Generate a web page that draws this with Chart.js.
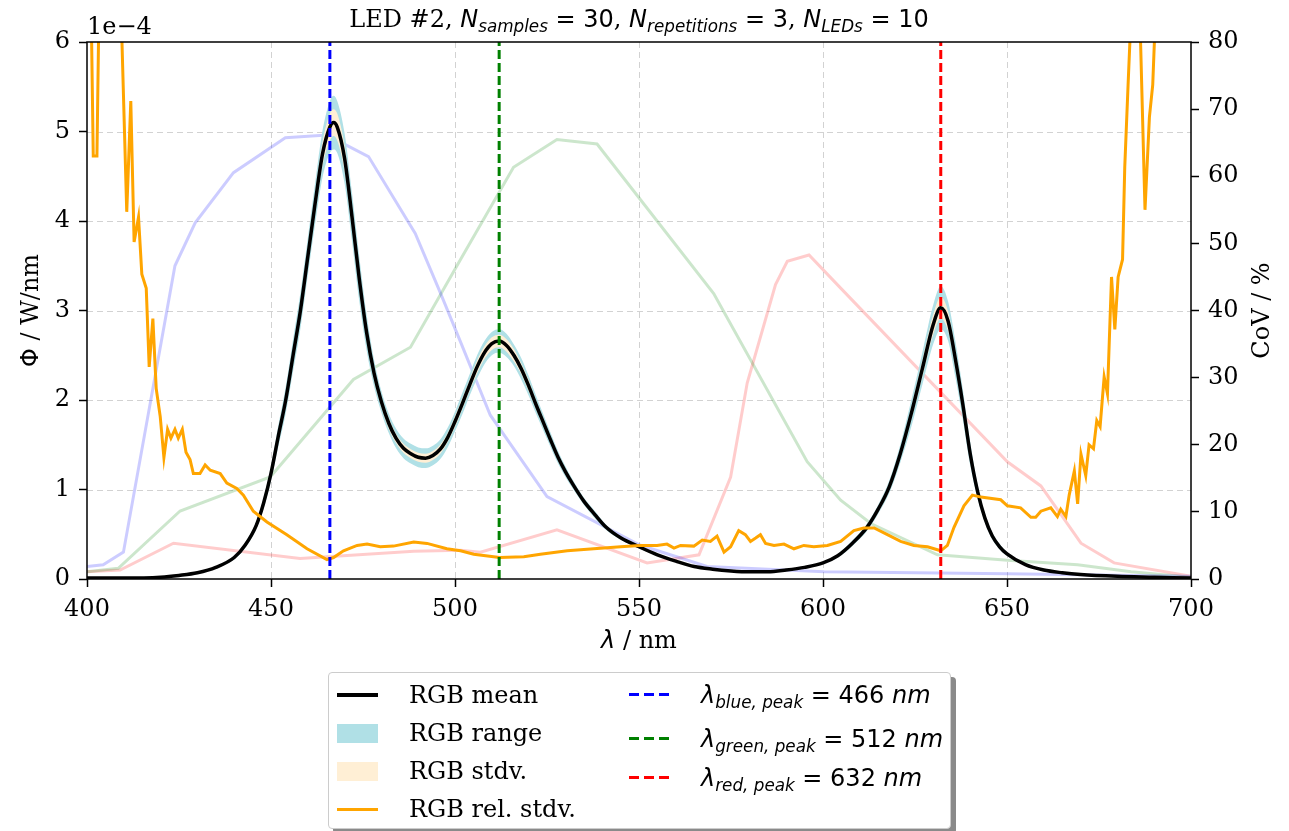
<!DOCTYPE html>
<html>
<head>
<meta charset="utf-8">
<script src="https://cdn.jsdelivr.net/npm/chart.js@4.4.0/dist/chart.umd.min.js"></script>
<style>
  body { margin: 0; background: #fff; }
  #wrap { position: relative; width: 1289px; height: 831px; }
  canvas { position: absolute; left: 0; top: 0; }
  .title { position: absolute; left: 0; width: 1278px; top: 4px; text-align: center;
           font: 24px "DejaVu Serif"; line-height: 30px; white-space: nowrap; }
  .m { font-family: "DejaVu Sans"; font-style: italic; }
  .s { font-family: "DejaVu Sans"; }
  sub { font-size: 70%; vertical-align: -0.3em; line-height: 0; }
  #legend { position: absolute; left: 328px; top: 672px; width: 623px; height: 157px; box-sizing: border-box;
            border: 1px solid #cccccc; border-radius: 4px; background: #fff; box-shadow: 5px 5px 0 #8a8a8a; }
  .lab { position: absolute; font: 24px "DejaVu Serif"; line-height: 30px; white-space: nowrap; }
  .h { position: absolute; }
</style>
</head>
<body>
<div id="wrap">
  <canvas id="c" width="1289" height="831"></canvas>
  <div class="title">LED #2, <span class="m">N<sub>samples</sub></span><span class="s"> = 30</span>, <span class="m">N<sub>repetitions</sub></span><span class="s"> = 3</span>, <span class="m">N<sub>LEDs</sub></span><span class="s"> = 10</span></div>
  <div id="legend">
    <div class="h" style="left:8px; top:20px; width:41px; height:3.5px; background:#000"></div>
    <div class="h" style="left:8px; top:51px; width:41px; height:19px; background:#b0e0e6"></div>
    <div class="h" style="left:8px; top:89px; width:41px; height:19px; background:#ffefd5"></div>
    <div class="h" style="left:8px; top:135px; width:41px; height:3px; background:#ffa500"></div>
    <div class="lab" style="left:80px; top:7px">RGB mean</div>
    <div class="lab" style="left:80px; top:45px">RGB range</div>
    <div class="lab" style="left:80px; top:83px">RGB stdv.</div>
    <div class="lab" style="left:80px; top:121px">RGB rel. stdv.</div>
    <div class="h" style="left:300px; top:20px; width:40px; height:3px; background:repeating-linear-gradient(90deg,#0000ff 0 10px,transparent 10px 15px)"></div>
    <div class="h" style="left:300px; top:64px; width:40px; height:3px; background:repeating-linear-gradient(90deg,#008000 0 10px,transparent 10px 15px)"></div>
    <div class="h" style="left:300px; top:103px; width:40px; height:3px; background:repeating-linear-gradient(90deg,#ff0000 0 10px,transparent 10px 15px)"></div>
    <div class="lab" style="left:372px; top:7px"><span class="m">λ<sub>blue, peak</sub></span><span class="s"> = 466 </span><span class="m">nm</span></div>
    <div class="lab" style="left:372px; top:51px"><span class="m">λ<sub>green, peak</sub></span><span class="s"> = 512 </span><span class="m">nm</span></div>
    <div class="lab" style="left:372px; top:90px"><span class="m">λ<sub>red, peak</sub></span><span class="s"> = 632 </span><span class="m">nm</span></div>
  </div>
</div>
<script>
// wavelength grid of the RGB spectrum, nm
var wl = [400,410,420,425,430,435,440,443,446,448,
          450,452,454,456,458,460,462,464,466,467,
          468,470,472,474,476,478,480,482,484,486,
          488,490,492,494,496,498,500,502,504,506,
          508,510,512,514,516,518,520,522,524,526,
          528,530,532,535,538,541,545,550,555,560,
          565,570,575,580,585,590,595,600,604,608,
          612,615,618,621,624,627,630,632,634,636,
          638,640,642,644,646,648,650,655,660,665,
          670,680,690,700];
// mean spectral flux, 1e-4 W/nm
var meanE4 = [0.01,0.01,0.02,0.04,0.07,0.13,0.24,0.38,0.60,0.85,
              1.18,1.60,2.00,2.50,3.00,3.60,4.20,4.75,5.05,5.10,
              5.05,4.70,4.05,3.35,2.75,2.30,1.98,1.74,1.57,1.46,
              1.40,1.36,1.35,1.38,1.45,1.58,1.76,1.96,2.17,2.37,
              2.53,2.63,2.66,2.61,2.50,2.35,2.16,1.95,1.75,1.55,
              1.36,1.20,1.06,0.87,0.72,0.58,0.46,0.36,0.27,0.20,
              0.14,0.11,0.09,0.08,0.08,0.10,0.13,0.18,0.26,0.40,
              0.58,0.78,1.03,1.40,1.85,2.35,2.85,3.03,2.88,2.45,
              1.95,1.40,0.98,0.68,0.48,0.36,0.28,0.16,0.10,0.07,
              0.05,0.03,0.02,0.01];
// half width of min..max range, 1e-4 W/nm
var rangeHalf = [0.01,0.01,0.01,0.01,0.01,0.01,0.02,0.03,0.04,0.06,
                 0.08,0.12,0.15,0.18,0.20,0.21,0.23,0.26,0.29,0.30,
                 0.29,0.28,0.27,0.25,0.20,0.15,0.12,0.11,0.11,0.11,
                 0.11,0.11,0.11,0.11,0.11,0.11,0.11,0.12,0.12,0.13,
                 0.13,0.13,0.13,0.13,0.12,0.12,0.11,0.10,0.09,0.08,
                 0.07,0.06,0.05,0.04,0.04,0.03,0.02,0.02,0.01,0.01,
                 0.01,0.01,0.01,0.01,0.01,0.01,0.01,0.01,0.02,0.03,
                 0.04,0.05,0.07,0.10,0.15,0.18,0.22,0.24,0.22,0.20,
                 0.17,0.13,0.08,0.05,0.04,0.03,0.02,0.01,0.01,0.01,
                 0.01,0.01,0.01,0.01];
// half width of +-1 stdv, 1e-4 W/nm
var stdHalf = [0.005,0.005,0.005,0.005,0.005,0.005,0.01,0.015,0.02,0.03,
               0.04,0.06,0.07,0.08,0.09,0.10,0.11,0.13,0.15,0.15,
               0.15,0.14,0.13,0.12,0.10,0.08,0.06,0.06,0.05,0.05,
               0.05,0.05,0.05,0.05,0.05,0.05,0.06,0.06,0.06,0.07,
               0.07,0.07,0.07,0.07,0.07,0.06,0.06,0.05,0.05,0.04,
               0.04,0.03,0.03,0.02,0.02,0.015,0.01,0.01,0.005,0.005,
               0.005,0.005,0.005,0.005,0.005,0.005,0.005,0.005,0.01,0.015,
               0.02,0.03,0.04,0.05,0.07,0.09,0.11,0.12,0.11,0.10,
               0.08,0.06,0.04,0.03,0.02,0.015,0.01,0.005,0.005,0.005,
               0.005,0.005,0.005,0.005];

// relative stdv (CoV), %
var covWl = [400,401,401.7,402.7,403.5,405,407,409,409.4,410.8,
             411.9,412.8,414,414.9,416.1,416.9,417.9,418.8,419.9,420.9,
             421.9,422.8,423.9,424.8,425.9,426.9,428,428.9,430.7,432.1,
             433.5,436.2,438,440.7,442.5,445.2,448.9,454.3,459.8,465.2,
             467,469.7,473.4,476.1,479.7,483.3,488.8,492.4,497.8,501.5,
             505.1,512.1,518.7,523.2,530.5,537.7,545,550.2,554.9,557.6,
             559.5,561.3,564.9,567.2,569.4,571.2,573.1,574.9,577.1,578.9,
             580.3,581.7,583,584.4,586.7,589.4,592.1,594.8,597.5,601.2,
             604.8,608.4,611.1,613.9,617.5,621.1,624.7,628.4,632,633.8,
             635.6,638.3,640.6,642.9,648.3,650.1,653.7,656.5,657.8,659.2,
             661.9,663.7,664.6,666,666.9,668.3,669.2,670.1,671.4,672.3,
             673.5,674.4,675.3,676.4,677.3,678.4,679.3,680.2,681.4,682,
             682.9,683.7,685,686.2,687.5,688.7,689.6,690.4,693,700];
var covPct = [130,90,63,63,95,160,150,100,82,54.7,
              71.2,50.2,53.9,45.4,43.3,31.6,38.8,28.4,24.2,18.1,
              22.3,21,22.3,21,22.3,18.9,17.8,15.7,15.7,17,
              16.2,15.7,14.3,13.5,12.5,10.1,8.5,6.6,4.5,2.9,
              3.2,4.2,5.0,5.2,4.8,4.9,5.5,5.3,4.5,4.2,
              3.7,3.2,3.3,3.7,4.2,4.5,4.8,5.0,5.0,5.2,
              4.6,5.0,4.9,5.8,5.6,6.4,4.0,4.8,7.2,6.6,
              5.6,6.1,6.6,5.3,5.0,5.2,4.5,5.0,4.8,5.0,
              5.6,7.2,7.6,7.6,6.6,5.6,5.0,4.8,4.2,5.0,
              7.7,10.9,12.5,12.2,11.8,10.9,10.6,9.2,9.2,10.1,
              10.6,9.3,10.4,9.3,12.5,16.1,11.2,18.6,15.4,20,
              19.4,23.6,22.7,30.1,27.6,45,37.2,45,47.6,61.4,
              73.6,84,100,82,55,68.8,73.6,85,120,160];

// faint sensor sensitivity curves, drawn on the left axis
var sensBlueWl = [400,404.4,409.9,423.9,429.4,439.8,453.9,465.2,476.5,489.2,496,501.5,509.6,525,550.2,568.5,600.3,650,700];
var sensBlue   = [0.14,0.16,0.30,3.50,3.98,4.54,4.93,4.96,4.72,3.86,3.20,2.65,1.83,0.92,0.38,0.14,0.08,0.06,0.03];
var sensGreenWl = [400,408.5,425.3,449.8,472.4,487.9,501.5,515.9,527.7,538.6,570.3,595.7,604.8,613,631.1,650.1,669.2,683.7,700];
var sensGreen   = [0.08,0.12,0.76,1.14,2.23,2.59,3.57,4.60,4.91,4.86,3.19,1.31,0.88,0.62,0.27,0.21,0.16,0.08,0.02];
var sensRedWl = [400,409,423.5,457.9,488.8,501.5,506.9,527.7,552.2,566.3,574.9,579.4,587.1,590.3,596.2,604.8,650.1,659.2,670.1,679.1,700];
var sensRed   = [0.08,0.10,0.40,0.23,0.31,0.32,0.30,0.55,0.18,0.27,1.14,2.19,3.29,3.55,3.62,3.25,1.31,1.04,0.40,0.18,0.03];

var peakWl = [466, 512, 632];
var peakColors = ['#0000ff', '#008000', '#ff0000'];

var xTicks = [400, 450, 500, 550, 600, 650, 700];
var yTicks = [0, 1, 2, 3, 4, 5, 6];
var y2Ticks = [0, 10, 20, 30, 40, 50, 60, 70, 80];

function pts(xs, ys) {
  return xs.map(function (x, i) { return {x: x, y: ys[i]}; });
}
function band(sign, half) {
  return wl.map(function (x, i) { return {x: x, y: meanE4[i] + sign * half[i]}; });
}
function line(data, color, width, order, extra) {
  return Object.assign({
    data: data, borderColor: color, backgroundColor: color, borderWidth: width,
    pointRadius: 0, fill: false, order: order, clip: 0, yAxisID: 'y'
  }, extra || {});
}

var smooth = {cubicInterpolationMode: 'monotone'};
var datasets = [
  line(pts(sensBlueWl, sensBlue), 'rgba(0,0,255,0.2)', 3, 6),
  line(pts(sensGreenWl, sensGreen), 'rgba(0,128,0,0.2)', 3, 6),
  line(pts(sensRedWl, sensRed), 'rgba(255,0,0,0.2)', 3, 6),
  line(band(1, rangeHalf), '#b0e0e6', 0, 5, Object.assign({fill: '+1'}, smooth)),
  line(band(-1, rangeHalf), '#b0e0e6', 0, 5, smooth),
  line(band(1, stdHalf), '#ffefd5', 0, 4, Object.assign({fill: '+1'}, smooth)),
  line(band(-1, stdHalf), '#ffefd5', 0, 4, smooth),
  line(pts(wl, meanE4), '#000000', 3.5, 3, smooth),
  line(pts(covWl, covPct), '#ffa500', 3, 2, {yAxisID: 'y2'})
];
peakWl.forEach(function (p, i) {
  datasets.push(line([{x: p, y: 0}, {x: p, y: 6}], peakColors[i], 3, 1, {borderDash: [9, 4]}));
});

// dashed grid, frame and axis texts
var decor = {
  id: 'decor',
  beforeDatasetsDraw: function (chart) {
    var ctx = chart.ctx, a = chart.chartArea, sx = chart.scales.x, sy = chart.scales.y;
    ctx.save();
    ctx.strokeStyle = '#d2d2d2';
    ctx.lineWidth = 1;
    ctx.setLineDash([6, 4]);
    xTicks.slice(1, -1).forEach(function (v) {
      var px = Math.round(sx.getPixelForValue(v)) + 0.5;
      ctx.beginPath(); ctx.moveTo(px, a.top); ctx.lineTo(px, a.bottom); ctx.stroke();
    });
    yTicks.slice(1, -1).forEach(function (v) {
      var py = Math.round(sy.getPixelForValue(v)) + 0.5;
      ctx.beginPath(); ctx.moveTo(a.left, py); ctx.lineTo(a.right, py); ctx.stroke();
    });
    ctx.restore();
  },
  afterDraw: function (chart) {
    var ctx = chart.ctx, a = chart.chartArea;
    ctx.save();
    ctx.strokeStyle = '#000';
    ctx.lineWidth = 1.5;
    ctx.strokeRect(a.left, a.top, a.right - a.left, a.bottom - a.top);

    ctx.fillStyle = '#000';
    ctx.textBaseline = 'middle';
    function runs(list, cx, cy) {
      var w = 0;
      list.forEach(function (r) { ctx.font = r[1]; w += ctx.measureText(r[0]).width; });
      var x = cx - w / 2;
      ctx.textAlign = 'left';
      list.forEach(function (r) { ctx.font = r[1]; ctx.fillText(r[0], x, cy); x += ctx.measureText(r[0]).width; });
    }
    var serif = '24px "DejaVu Serif"', sans = '24px "DejaVu Sans"', ital = 'italic 24px "DejaVu Sans"';
    runs([['λ', ital], [' / nm', serif]], (a.left + a.right) / 2, 642);

    ctx.save();
    ctx.translate(32, (a.top + a.bottom) / 2);
    ctx.rotate(-Math.PI / 2);
    runs([['Φ', sans], [' / W/nm', serif]], 0, 0);
    ctx.restore();

    ctx.save();
    ctx.translate(1263, (a.top + a.bottom) / 2);
    ctx.rotate(-Math.PI / 2);
    runs([['CoV / %', serif]], 0, 0);
    ctx.restore();

    ctx.font = serif;
    ctx.textAlign = 'left';
    ctx.textBaseline = 'alphabetic';
    ctx.fillText('1e\u22124', a.left, 34);
    ctx.restore();
  }
};

Chart.defaults.font.family = '"DejaVu Serif"';
Chart.defaults.font.size = 24;
Chart.defaults.color = '#000';

function tickGrid() {
  return {drawOnChartArea: false, drawTicks: true, tickLength: 8, tickWidth: 1.5, tickColor: '#000'};
}

new Chart(document.getElementById('c'), {
  type: 'line',
  data: {datasets: datasets},
  options: {
    responsive: false,
    animation: false,
    events: [],
    layout: {padding: {top: 42, left: 0, right: 0, bottom: 0}},
    plugins: {legend: {display: false}, tooltip: {enabled: false}},
    scales: {
      x: {
        type: 'linear', min: 400, max: 700,
        afterBuildTicks: function (s) { s.ticks = xTicks.map(function (v) { return {value: v}; }); },
        ticks: {padding: 8, maxRotation: 0, autoSkip: false},
        grid: tickGrid(), border: {display: false},
        afterFit: function (s) { s.height = 252; }
      },
      y: {
        type: 'linear', position: 'left', min: 0, max: 6,
        afterBuildTicks: function (s) { s.ticks = yTicks.map(function (v) { return {value: v}; }); },
        ticks: {padding: 9},
        grid: tickGrid(), border: {display: false},
        afterFit: function (s) { s.width = 87; }
      },
      y2: {
        type: 'linear', position: 'right', min: 0, max: 80,
        afterBuildTicks: function (s) { s.ticks = y2Ticks.map(function (v) { return {value: v}; }); },
        ticks: {padding: 9},
        grid: tickGrid(), border: {display: false},
        afterFit: function (s) { s.width = 98; }
      }
    }
  },
  plugins: [decor]
});
</script>
</body>
</html>
